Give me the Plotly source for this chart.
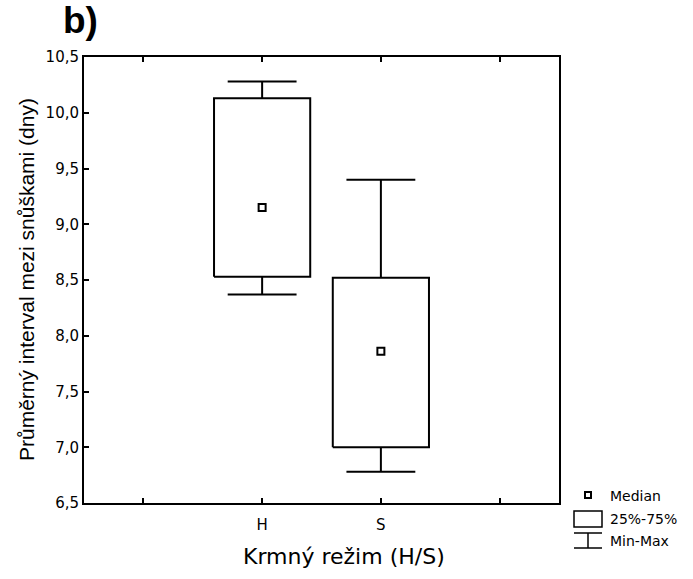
import plotly.graph_objects as go

# ---- data ----
categories = ["H", "S"]
medians = [9.15, 7.86]
q1 = [8.53, 7.00]
q3 = [10.13, 8.52]
mins = [8.37, 6.78]
maxs = [10.28, 9.40]

positions = [2, 3]          # category slots on the x axis (range 0.5–4.5)
tick_vals = [1, 2, 3, 4]
tick_text = ["", "H", "S", ""]
y_ticks = [6.5, 7.0, 7.5, 8.0, 8.5, 9.0, 9.5, 10.0, 10.5]

BOX_HALF = 0.405
CAP_HALF = 0.29
LW = 2

fig = go.Figure()

for i, c in enumerate(categories):
    p = positions[i]
    # box
    fig.add_trace(go.Scatter(
        x=[p - BOX_HALF, p + BOX_HALF, p + BOX_HALF, p - BOX_HALF, p - BOX_HALF],
        y=[q1[i], q1[i], q3[i], q3[i], q1[i]],
        mode="lines", line=dict(color="black", width=LW),
        showlegend=False, hoverinfo="skip"))
    # whiskers (upper and lower) with caps
    fig.add_trace(go.Scatter(
        x=[p, p, None, p - CAP_HALF, p + CAP_HALF, None,
           p, p, None, p - CAP_HALF, p + CAP_HALF],
        y=[q3[i], maxs[i], None, maxs[i], maxs[i], None,
           q1[i], mins[i], None, mins[i], mins[i]],
        mode="lines", line=dict(color="black", width=LW),
        showlegend=False, hoverinfo="skip"))
    # median
    fig.add_trace(go.Scatter(
        x=[p], y=[medians[i]], mode="markers",
        marker=dict(symbol="square-open", size=7, color="black",
                    line=dict(width=2, color="black")),
        showlegend=False, hoverinfo="skip"))

# ---- layout ----
L, R, T, B = 84, 134, 57, 76
W, H = 693, 579
PW, PH = W - L - R, H - T - B

def px(xp):
    return (xp - L) / PW

def py(yp):
    return (H - B - yp) / PH

arial = "Liberation Sans, Arial, sans-serif"
wide = "DejaVu Sans, Liberation Sans, Arial, sans-serif"

fig.update_layout(
    width=W, height=H,
    margin=dict(l=L, r=R, t=T, b=B, pad=0),
    paper_bgcolor="white", plot_bgcolor="white",
    separators=",.",
    font=dict(family=wide, color="black"),
    showlegend=False,
    xaxis=dict(
        range=[0.5, 4.5], tickmode="array", tickvals=tick_vals, ticktext=tick_text,
        ticks="inside", ticklen=5, tickwidth=2, tickcolor="black",
        showline=True, linewidth=2, linecolor="black", mirror="ticks",
        showgrid=False, zeroline=False, ticklabelstandoff=7,
        tickfont=dict(size=15, family=wide, color="black"),
    ),
    yaxis=dict(
        range=[6.5, 10.5], tickmode="array", tickvals=y_ticks, tickformat=".1f",
        ticks="inside", ticklen=5, tickwidth=2, tickcolor="black",
        showline=True, linewidth=2, linecolor="black", mirror=True,
        showgrid=False, zeroline=False,
        tickfont=dict(size=15, family=wide, color="black"),
    ),
)

# axis titles
fig.add_annotation(text="Krmný režim (H/S)", xref="paper", yref="paper",
                   x=px(344), y=py(556), xanchor="center", yanchor="middle",
                   showarrow=False, font=dict(size=22, family=wide, color="black"))
fig.add_annotation(text="Průměrný interval mezi snůškami (dny)", xref="paper", yref="paper",
                   x=px(26), y=py(280), xanchor="center", yanchor="middle", textangle=-90,
                   showarrow=False, font=dict(size=21, family=arial, color="black"))

# panel label
fig.add_annotation(text="<b>b)</b>", xref="paper", yref="paper",
                   x=px(61), y=py(21), xanchor="left", yanchor="middle",
                   showarrow=False, font=dict(size=37, family=arial, color="black"))

# ---- custom legend (outside plot area, paper coordinates) ----
lx0, lx1, lxc = 574, 602, 588
# median symbol
fig.add_shape(type="rect", xref="paper", yref="paper",
              x0=px(lxc - 3), x1=px(lxc + 3), y0=py(498), y1=py(492),
              line=dict(color="black", width=2))
# box symbol
fig.add_shape(type="rect", xref="paper", yref="paper",
              x0=px(lx0), x1=px(lx1), y0=py(527), y1=py(511),
              line=dict(color="black", width=1.5))
# min-max symbol
for (xa, ya, xb, yb) in [(lx0, 533, lx1, 533), (lx0, 548, lx1, 548), (lxc, 533, lxc, 548)]:
    fig.add_shape(type="line", xref="paper", yref="paper",
                  x0=px(xa), y0=py(ya), x1=px(xb), y1=py(yb),
                  line=dict(color="black", width=1.5))

for txt, yy in [("Median", 496), ("25%-75%", 519), ("Min-Max", 541)]:
    fig.add_annotation(text=txt, xref="paper", yref="paper",
                       x=px(608), y=py(yy), xanchor="left", yanchor="middle",
                       showarrow=False, font=dict(size=14, family=wide, color="black"))

fig.write_html("out.html")
